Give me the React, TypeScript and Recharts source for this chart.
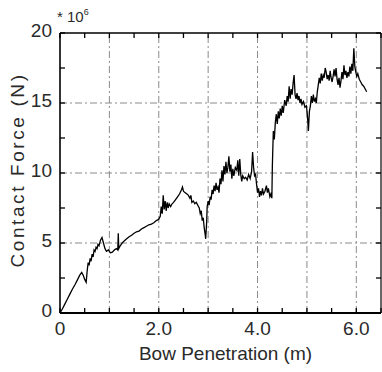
import React from 'react';
import { LineChart, Line, XAxis, YAxis, ReferenceLine, Label } from 'recharts';

// Bow penetration (m)
const penetration: number[] = [
  0, 0.05, 0.1, 0.15, 0.2, 0.25, 0.3, 0.35, 0.4, 0.44, 0.47, 0.5, 0.53, 0.55, 0.57, 0.59, 0.61, 0.63, 0.65, 0.67,
  0.69, 0.71, 0.73, 0.75, 0.77, 0.79, 0.82, 0.85, 0.88, 0.91, 0.94, 0.98, 1.02, 1.06, 1.1, 1.14, 1.17, 1.18, 1.19, 1.22,
  1.26, 1.3, 1.35, 1.4, 1.45, 1.5, 1.55, 1.6, 1.65, 1.7, 1.75, 1.8, 1.85, 1.9, 1.95, 2.0, 2.03, 2.05, 2.07, 2.09,
  2.11, 2.13, 2.15, 2.17, 2.19, 2.21, 2.24, 2.27, 2.3, 2.34, 2.38, 2.42, 2.46, 2.48, 2.5, 2.53, 2.57, 2.6, 2.63, 2.65,
  2.67, 2.7, 2.73, 2.76, 2.79, 2.82, 2.84, 2.86, 2.88, 2.9, 2.92, 2.94, 2.95, 2.97, 2.98, 3.0, 3.02, 3.04, 3.06, 3.08,
  3.1, 3.12, 3.14, 3.16, 3.18, 3.2, 3.22, 3.24, 3.26, 3.28, 3.3, 3.32, 3.34, 3.36, 3.38, 3.4, 3.42, 3.44, 3.46, 3.48,
  3.5, 3.52, 3.55, 3.58, 3.6, 3.62, 3.64, 3.66, 3.68, 3.7, 3.73, 3.76, 3.79, 3.82, 3.85, 3.88, 3.9, 3.92, 3.94, 3.96,
  3.98, 4.0, 4.02, 4.04, 4.06, 4.08, 4.1, 4.12, 4.15, 4.18, 4.2, 4.22, 4.25, 4.27, 4.29, 4.3, 4.31, 4.32, 4.34, 4.36,
  4.38, 4.4, 4.42, 4.44, 4.46, 4.48, 4.5, 4.52, 4.55, 4.58, 4.6, 4.62, 4.64, 4.66, 4.68, 4.7, 4.72, 4.74, 4.76, 4.78,
  4.8, 4.82, 4.84, 4.86, 4.88, 4.9, 4.93, 4.96, 4.99, 5.01, 5.03, 5.05, 5.07, 5.09, 5.11, 5.13, 5.15, 5.17, 5.19, 5.21,
  5.23, 5.25, 5.27, 5.29, 5.31, 5.33, 5.35, 5.37, 5.39, 5.41, 5.43, 5.45, 5.47, 5.49, 5.51, 5.53, 5.55, 5.57, 5.59, 5.61,
  5.63, 5.65, 5.67, 5.69, 5.71, 5.73, 5.75, 5.77, 5.79, 5.81, 5.83, 5.85, 5.87, 5.89, 5.91, 5.93, 5.95, 5.97, 5.99, 6.01,
  6.03, 6.06, 6.09, 6.12, 6.15, 6.18, 6.21,
];

// Contact force (x10^6 N)
const contactForce: number[] = [
  0, 0.3, 0.65, 1.0, 1.35, 1.7, 2.0, 2.35, 2.7, 2.9, 2.7, 2.4, 2.2, 3.0, 3.6, 3.4, 3.9, 3.7, 4.2, 4.0,
  4.5, 4.4, 4.7, 4.6, 4.9, 4.8, 5.2, 5.4, 5.0, 4.6, 4.4, 4.5, 4.3, 4.35, 4.5, 4.6, 4.5, 5.7, 4.6, 4.8,
  5.0, 5.15, 5.3, 5.45, 5.55, 5.7, 5.8, 5.85, 6.0, 6.1, 6.2, 6.3, 6.35, 6.45, 6.6, 6.7, 6.9, 7.6, 7.1, 8.4,
  7.4, 8.0, 7.3, 7.9, 7.5, 7.8, 7.6, 7.8, 7.9, 8.1, 8.3, 8.5, 8.8, 9.0, 8.7, 8.6, 8.5, 8.4, 8.2, 8.4,
  7.9, 8.0, 7.8, 7.9, 7.7, 7.5, 7.1, 7.3, 6.6, 6.8, 6.1, 5.6, 5.3, 6.5, 7.6, 8.0, 7.7, 8.3, 8.1, 8.8,
  8.5, 9.1, 8.7, 9.3, 8.8, 9.0, 8.6, 9.6, 9.2, 10.2, 9.4, 10.5, 9.9, 10.8, 10.0, 10.4, 11.2, 10.1, 10.6, 9.6,
  10.3, 9.8, 10.4, 10.2, 10.9, 9.8, 11.0, 9.9, 9.4, 9.8, 9.6, 9.7, 9.5, 9.9, 9.6, 10.1, 11.5, 10.4, 9.8, 9.9,
  9.2, 8.6, 8.9, 8.3, 8.7, 8.4, 8.9, 8.5, 8.7, 9.1, 8.6, 8.9, 8.3, 8.5, 8.2, 10.5, 11.8, 13.0, 12.4, 13.6,
  14.2, 13.5, 14.4, 13.9, 14.6, 14.1, 14.8, 14.3, 15.2, 14.8, 15.5, 15.1, 16.2, 15.3, 16.0, 15.6, 16.4, 17.0, 15.6, 15.3,
  15.7, 15.2, 15.5, 15.0, 15.3, 14.9, 15.1, 14.7, 14.8, 14.1, 13.0, 14.4, 14.8, 15.5, 15.0, 15.6, 15.1, 15.3, 15.0, 15.8,
  16.3, 16.8, 16.4, 17.1, 16.6, 17.0, 16.8, 17.5, 17.2, 16.7, 17.0, 16.6, 17.3, 16.8, 16.5, 16.9, 17.4, 16.9, 17.5, 16.7,
  16.3, 16.8, 16.1, 16.6, 17.2, 16.7, 17.7, 17.0, 17.3, 16.8, 17.2, 16.9, 17.6, 17.1, 17.8, 17.3, 18.9, 17.6, 17.2, 16.9,
  17.1, 16.7, 16.5, 16.3, 16.2, 16.0, 15.8,
];

const xTicks: number[] = [0, 0.5, 1, 1.5, 2, 2.5, 3, 3.5, 4, 4.5, 5, 5.5, 6, 6.5];
const xTickLabels: Record<number, string> = { 0: '0', 2: '2.0', 4: '4.0', 6: '6.0' };
const yTicks: number[] = [0, 2.5, 5, 7.5, 10, 12.5, 15, 17.5, 20];
const yTickLabels: Record<number, string> = { 0: '0', 5: '5', 10: '10', 15: '15', 20: '20' };
const gridX: number[] = [1, 2, 3, 4, 5, 6];
const gridY: number[] = [5, 10, 15];

const data = penetration.map((x, i) => ({ x, force: contactForce[i] }));

const FONT = '"Liberation Sans", Arial, sans-serif';
const TEXT = '#2a2a2a';

const BottomTick = (props: any) => {
  const { x, y, payload } = props;
  const lbl = xTickLabels[payload.value];
  return (
    <g>
      <line x1={x} y1={y} x2={x} y2={y - 5} stroke="#000" strokeWidth={1.3} />
      {lbl !== undefined && (
        <text x={x} y={y + 22} textAnchor="middle" fontFamily={FONT} fontSize={19} fill={TEXT}>
          {lbl}
        </text>
      )}
    </g>
  );
};

const TopTick = (props: any) => {
  const { x, y } = props;
  return <line x1={x} y1={y} x2={x} y2={y + 5} stroke="#000" strokeWidth={1.3} />;
};

const LeftTick = (props: any) => {
  const { x, y, payload } = props;
  const lbl = yTickLabels[payload.value];
  return (
    <g>
      <line x1={x} y1={y} x2={x + 5} y2={y} stroke="#000" strokeWidth={1.3} />
      {lbl !== undefined && (
        <text x={x - 8} y={y + 4} textAnchor="end" fontFamily={FONT} fontSize={19} fill={TEXT}>
          {lbl}
        </text>
      )}
    </g>
  );
};

const RightTick = (props: any) => {
  const { x, y } = props;
  return <line x1={x} y1={y} x2={x - 5} y2={y} stroke="#000" strokeWidth={1.3} />;
};

export default function App() {
  return (
    <div style={{ position: 'absolute', left: 0, top: 0, width: 382, height: 372, background: '#fff' }}>
      <LineChart width={382} height={372} data={data} margin={{ top: 0, right: 0, bottom: 0, left: 0 }}>
        <XAxis
          dataKey="x"
          type="number"
          domain={[0, 6.5]}
          ticks={xTicks}
          interval={0}
          height={59}
          tickSize={0}
          tickMargin={0}
          tickLine={false}
          tick={<BottomTick />}
          axisLine={{ stroke: '#000', strokeWidth: 2 }}
          allowDataOverflow
        >
          <Label
            content={(p: any) => {
              const vb = p.viewBox || { x: 60, y: 313, width: 321 };
              return (
                <text x={vb.x + vb.width / 2 + 5} y={vb.y + 47} textAnchor="middle" fontFamily={FONT} fontSize={19} fill={TEXT}>
                  Bow Penetration (m)
                </text>
              );
            }}
          />
        </XAxis>
        <XAxis
          xAxisId="top"
          dataKey="x"
          type="number"
          orientation="top"
          domain={[0, 6.5]}
          ticks={xTicks}
          interval={0}
          height={33}
          tickSize={0}
          tickMargin={0}
          tickLine={false}
          tick={<TopTick />}
          axisLine={{ stroke: '#000', strokeWidth: 1.6 }}
          allowDataOverflow
        />
        <YAxis
          type="number"
          domain={[0, 20]}
          ticks={yTicks}
          interval={0}
          width={60}
          tickSize={0}
          tickMargin={0}
          tickLine={false}
          tick={<LeftTick />}
          axisLine={{ stroke: '#000', strokeWidth: 1.6 }}
          allowDataOverflow
        >
          <Label
            content={(p: any) => {
              const vb = p.viewBox || { x: 0, y: 33, width: 60, height: 280 };
              const cx = 24;
              const cy = vb.y + vb.height / 2 - 3;
              return (
                <g>
                  <text
                    x={cx}
                    y={cy}
                    transform={`rotate(-90 ${cx} ${cy})`}
                    textAnchor="middle"
                    fontFamily={FONT}
                    fontSize={19}
                    letterSpacing={2.6}
                    fill={TEXT}
                  >
                    Contact Force (N)
                  </text>
                  <text x={vb.x + vb.width - 3} y={vb.y - 11} fontFamily={FONT} fontSize={15} fill={TEXT}>
                    * 10
                    <tspan dy={-7} fontSize={9}>
                      6
                    </tspan>
                  </text>
                </g>
              );
            }}
          />
        </YAxis>
        <YAxis
          yAxisId="right"
          type="number"
          orientation="right"
          domain={[0, 20]}
          ticks={yTicks}
          interval={0}
          width={1}
          tickSize={0}
          tickMargin={0}
          tickLine={false}
          tick={<RightTick />}
          axisLine={{ stroke: '#000', strokeWidth: 1.2 }}
          allowDataOverflow
        />
        {gridX.map((v) => (
          <ReferenceLine key={`gx${v}`} x={v} stroke="#8a8a8a" strokeWidth={1} strokeDasharray="7 3 2 3" />
        ))}
        {gridY.map((v) => (
          <ReferenceLine key={`gy${v}`} y={v} stroke="#8a8a8a" strokeWidth={1} strokeDasharray="7 3 2 3" />
        ))}
        <Line
          type="linear"
          dataKey="force"
          stroke="#000"
          strokeWidth={1.3}
          dot={false}
          isAnimationActive={false}
        />
      </LineChart>
    </div>
  );
}
